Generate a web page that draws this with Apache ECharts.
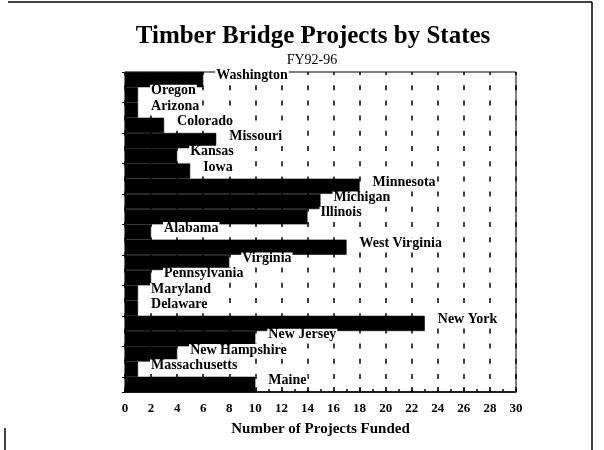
<!DOCTYPE html>
<html>
<head>
<meta charset="utf-8">
<script src="https://cdn.jsdelivr.net/npm/echarts@6/dist/echarts.min.js"></script>
<style>
  html, body { margin: 0; padding: 0; background: #fff; }
  #chart { width: 604px; height: 450px; }
</style>
</head>
<body>
<div id="chart"></div>
<script>
// states, top to bottom
const states = [
  'Washington', 'Oregon', 'Arizona', 'Colorado', 'Missouri', 'Kansas', 'Iowa',
  'Minnesota', 'Michigan', 'Illinois', 'Alabama', 'West Virginia', 'Virginia',
  'Pennsylvania', 'Maryland', 'Delaware', 'New York', 'New Jersey',
  'New Hampshire', 'Massachusetts', 'Maine'
]
// number of projects funded FY92-96
const projects = [6, 1, 1, 3, 7, 4, 5, 18, 15, 14, 2, 17, 8, 2, 1, 1, 23, 10, 4, 1, 10]

const xMin = 0
const xMax = 30
const xStep = 2

const serif = '"Liberation Serif", "DejaVu Serif", serif'

const chart = echarts.init(document.getElementById('chart'))

const option = {
  animation: false,
  backgroundColor: '#fff',
  title: [
    {
      text: 'Timber Bridge Projects by States',
      left: 308,
      top: 19,
      textAlign: 'center',
      textStyle: { fontFamily: serif, fontSize: 25, fontWeight: 'bold', color: '#000' }
    },
    {
      text: 'FY92-96',
      left: 307,
      top: 48,
      textAlign: 'center',
      textStyle: { fontFamily: serif, fontSize: 14, fontWeight: 'normal', color: '#000' }
    }
  ],
  grid: {
    left: 125,
    right: 88,
    top: 72,
    bottom: 58,
    show: true,
    borderColor: '#000',
    borderWidth: 1,
    backgroundColor: 'transparent'
  },
  xAxis: {
    type: 'value',
    min: xMin,
    max: xMax,
    interval: xStep,
    name: 'Number of Projects Funded',
    nameLocation: 'middle',
    nameGap: 30,
    nameTextStyle: { fontFamily: serif, fontSize: 15, fontWeight: 'bold', color: '#000' },
    axisLine: { show: true, lineStyle: { color: '#000', width: 1.5 } },
    axisTick: { show: true, inside: true, length: 5, lineStyle: { color: '#000', width: 1.5 } },
    minorTick: { show: true, splitNumber: 2, length: 3, lineStyle: { color: '#000', width: 1.5 } },
    axisLabel: { fontFamily: serif, fontSize: 13, fontWeight: 'bold', color: '#000', margin: 10 },
    splitLine: {
      show: true,
      lineStyle: { color: '#000', width: 1.5, type: [5, 10.2], dashOffset: 2 }
    }
  },
  yAxis: {
    type: 'category',
    data: states,
    inverse: true,
    axisLine: { show: true, lineStyle: { color: '#000', width: 1 } },
    axisTick: { show: true, inside: false, length: 3, lineStyle: { color: '#000' } },
    axisLabel: { show: false },
    splitLine: { show: false }
  },
  series: [
    {
      type: 'bar',
      data: projects,
      barCategoryGap: 0,
      itemStyle: { color: '#000', borderColor: '#000', borderWidth: 0.6 },
      label: {
        show: true,
        position: 'right',
        distance: 12,
        offset: [0, -4],
        formatter: p => p.name,
        fontFamily: serif,
        fontSize: 14,
        fontWeight: 'bold',
        color: '#000',
        backgroundColor: '#fff',
        padding: [0, 1],
        lineHeight: 12
      }
    }
  ],
  graphic: [
    { type: 'line', shape: { x1: 8, y1: 2, x2: 592, y2: 2 }, style: { stroke: '#000', lineWidth: 1.5 } },
    { type: 'line', shape: { x1: 592, y1: 2, x2: 592, y2: 450 }, style: { stroke: '#000', lineWidth: 1.5 } },
    { type: 'line', shape: { x1: 5, y1: 428, x2: 5, y2: 450 }, style: { stroke: '#000', lineWidth: 1.5 } }
  ]
}

chart.setOption(option)
</script>
</body>
</html>
